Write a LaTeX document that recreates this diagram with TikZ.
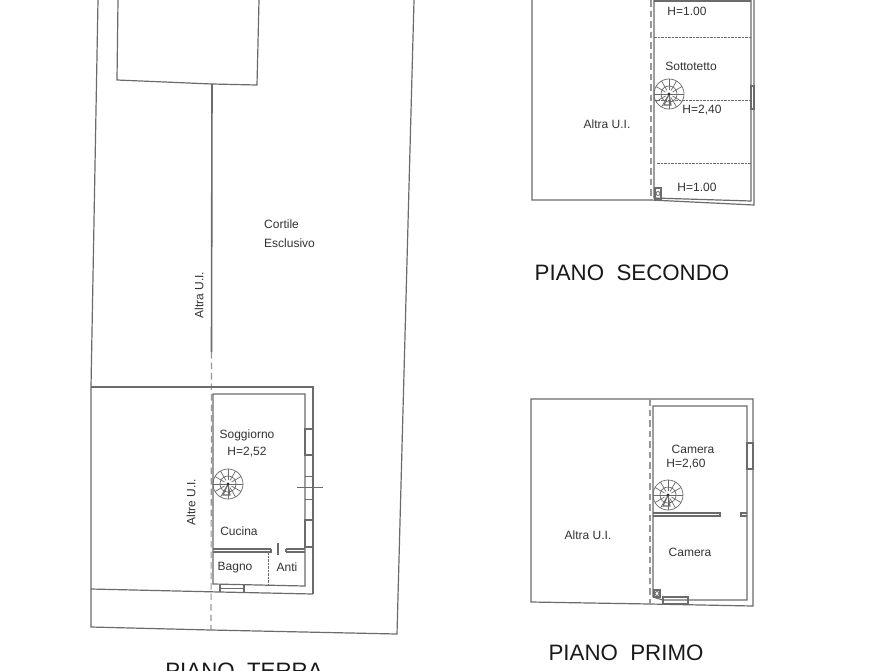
\documentclass[tikz,border=0pt]{standalone}
\usepackage{fontspec}
\setmainfont{Liberation Sans}
\definecolor{ln}{gray}{0.42}
\tikzset{
 wall/.style={draw=ln,line width=1.2pt,line join=miter},
 thin/.style={draw=ln,line width=0.8pt},
 heavy/.style={draw=ln,line width=1.6pt},
 dotline/.style={draw=ln,line width=0.9pt,dash pattern=on 2.5pt off 1pt},
 centre/.style={draw=ln!70,line width=1.1pt,dash pattern=on 6.5pt off 4pt},
 lab/.style={inner sep=0pt,font=\fontsize{12}{14}\selectfont,text=black!80},
 title/.style={inner sep=0pt,font=\fontsize{22.3}{25}\selectfont,text=black!90},
 stairline/.style={draw=ln,line width=0.7pt}
}
\newcommand{\spiralstair}[2]{%
 \begin{scope}[shift={(#1,#2)}]
  \draw[stairline] (0,0) circle (15);
  \draw[stairline] (0,0) circle (8);
  \foreach \a in {0,30,...,330}{\draw[stairline] (\a:4) -- (\a:15);}
  \draw[stairline,line width=1pt] (-15,0) -- (15,0);
  \draw[stairline,line width=1.1pt] (0,0) -- (-5,11) -- (2,11) -- (0,0);
  \fill[black!80] (0,0) circle (1.6);
 \end{scope}}
\begin{document}
\begin{tikzpicture}[x=1pt,y=-1pt]
\useasboundingbox (0,0) rectangle (893,670);
\fill[white] (0,0) rectangle (893,670);
% ---------- PIANO TERRA
\draw[wall] (98,0) -- (91,387) -- (91,627) -- (211,630) -- (397,634) -- (414,0);
\draw[wall] (118,0) -- (117,80) -- (212,84) -- (257,85) -- (259,0);
\draw[heavy] (212,84) -- (211.5,352);
\draw[centre] (211.5,352) -- (211,630);
\draw[heavy] (91,387) -- (313,387) -- (313,594);
\draw[wall] (91,589) -- (220,592) -- (313,594);
\draw[wall] (305,429) -- (305,394) -- (213,394) -- (213,584) -- (305,586) -- (305,429);
\draw[wall] (213,549) -- (271,549) (213,552) -- (271,552) -- (271,549);
\draw[wall] (286,549) -- (305,549) (286,552) -- (305,552) (286,549) -- (286,552);
\draw[wall] (278,543) -- (278,555);
\draw[dotline] (268,552) -- (268,585);
\draw[wall] (305,429) rectangle (313,455);
\draw[wall] (305,520) rectangle (313,547);
\draw[thin] (305,476) -- (313,476) (305,499) -- (313,499);
\draw[wall] (297,487.5) -- (323,487.5);
\draw[wall] (220,585) -- (220,592) (244,585) -- (244,592);
\draw[thin] (220,588) -- (244,588);
\spiralstair{228}{484}
\node[lab,anchor=west] (cortile) at (264,224.5) {Cortile};
\node[lab,anchor=west] (esclusivo) at (264,243.5) {Esclusivo};
\node[lab,rotate=90] (altraA) at (199,295) {Altra U.I.};
\node[lab,rotate=90] (altre) at (191,502) {Altre U.I.};
\node[lab] (soggiorno) at (247,435.5) {Soggiorno};
\node[lab] (h252) at (247,452.5) {H=2,52};
\node[lab] (cucina) at (239,531.5) {Cucina};
\node[lab] (bagno) at (235,568) {Bagno};
\node[lab] (anti) at (287,567) {Anti};
\node[title] (terra) at (244,671) {PIANO\ \ TERRA};
% ---------- PIANO SECONDO
\draw[wall] (532,0) -- (532,200) -- (651,200) -- (754,205) -- (754,0);
\draw[wall] (654,0) -- (654,198) -- (751,201) -- (751,0);
\draw[wall] (654,1) -- (751,1);
\draw[centre] (651,0) -- (651,201);
\draw[dotline] (654,37) -- (751,37) (654,100) -- (751,100) (657,163) -- (751,163);
\draw[wall] (751,86) rectangle (754,109);
\draw[wall] (655,188) rectangle (661,199);
\draw[thin] (658,193.5) circle (2);
\spiralstair{669}{94}
\node[lab] (h100a) at (687,11.5) {H=1.00};
\node[lab] (sotto) at (691,66.5) {Sottotetto};
\node[lab] (h240) at (702,110.5) {H=2,40};
\node[lab] (altraB) at (607,124.5) {Altra U.I.};
\node[lab] (h100b) at (697,187.5) {H=1.00};
\node[title] (secondo) at (632,273) {PIANO\ \ SECONDO};
% ---------- PIANO PRIMO
\draw[wall] (531,399) -- (753,399) -- (753,606) -- (650,604) -- (531,602) -- cycle;
\draw[wall] (747,443) -- (747,406) -- (653,406) -- (653,597) -- (663,600) -- (747,600) -- (747,469);
\draw[wall] (747,443) rectangle (753,469);
\draw[centre] (650,399) -- (650,604);
\draw[wall] (653,513) -- (720,513) -- (720,516) -- (653,516);
\draw[wall] (747,513) -- (741,513) -- (741,516) -- (747,516);
\draw[wall] (663,597) rectangle (688,604);
\draw[wall] (654,590) rectangle (660,597);
\draw[thin] (657,593.5) circle (2);
\spiralstair{668}{495}
\node[lab] (cam1) at (693,449.5) {Camera};
\node[lab] (h260) at (686,464.5) {H=2,60};
\node[lab] (altraC) at (588,535.5) {Altra U.I.};
\node[lab] (cam2) at (690,552.5) {Camera};
\node[title] (primo) at (626,653) {PIANO\ \ PRIMO};
\end{tikzpicture}
\end{document}
